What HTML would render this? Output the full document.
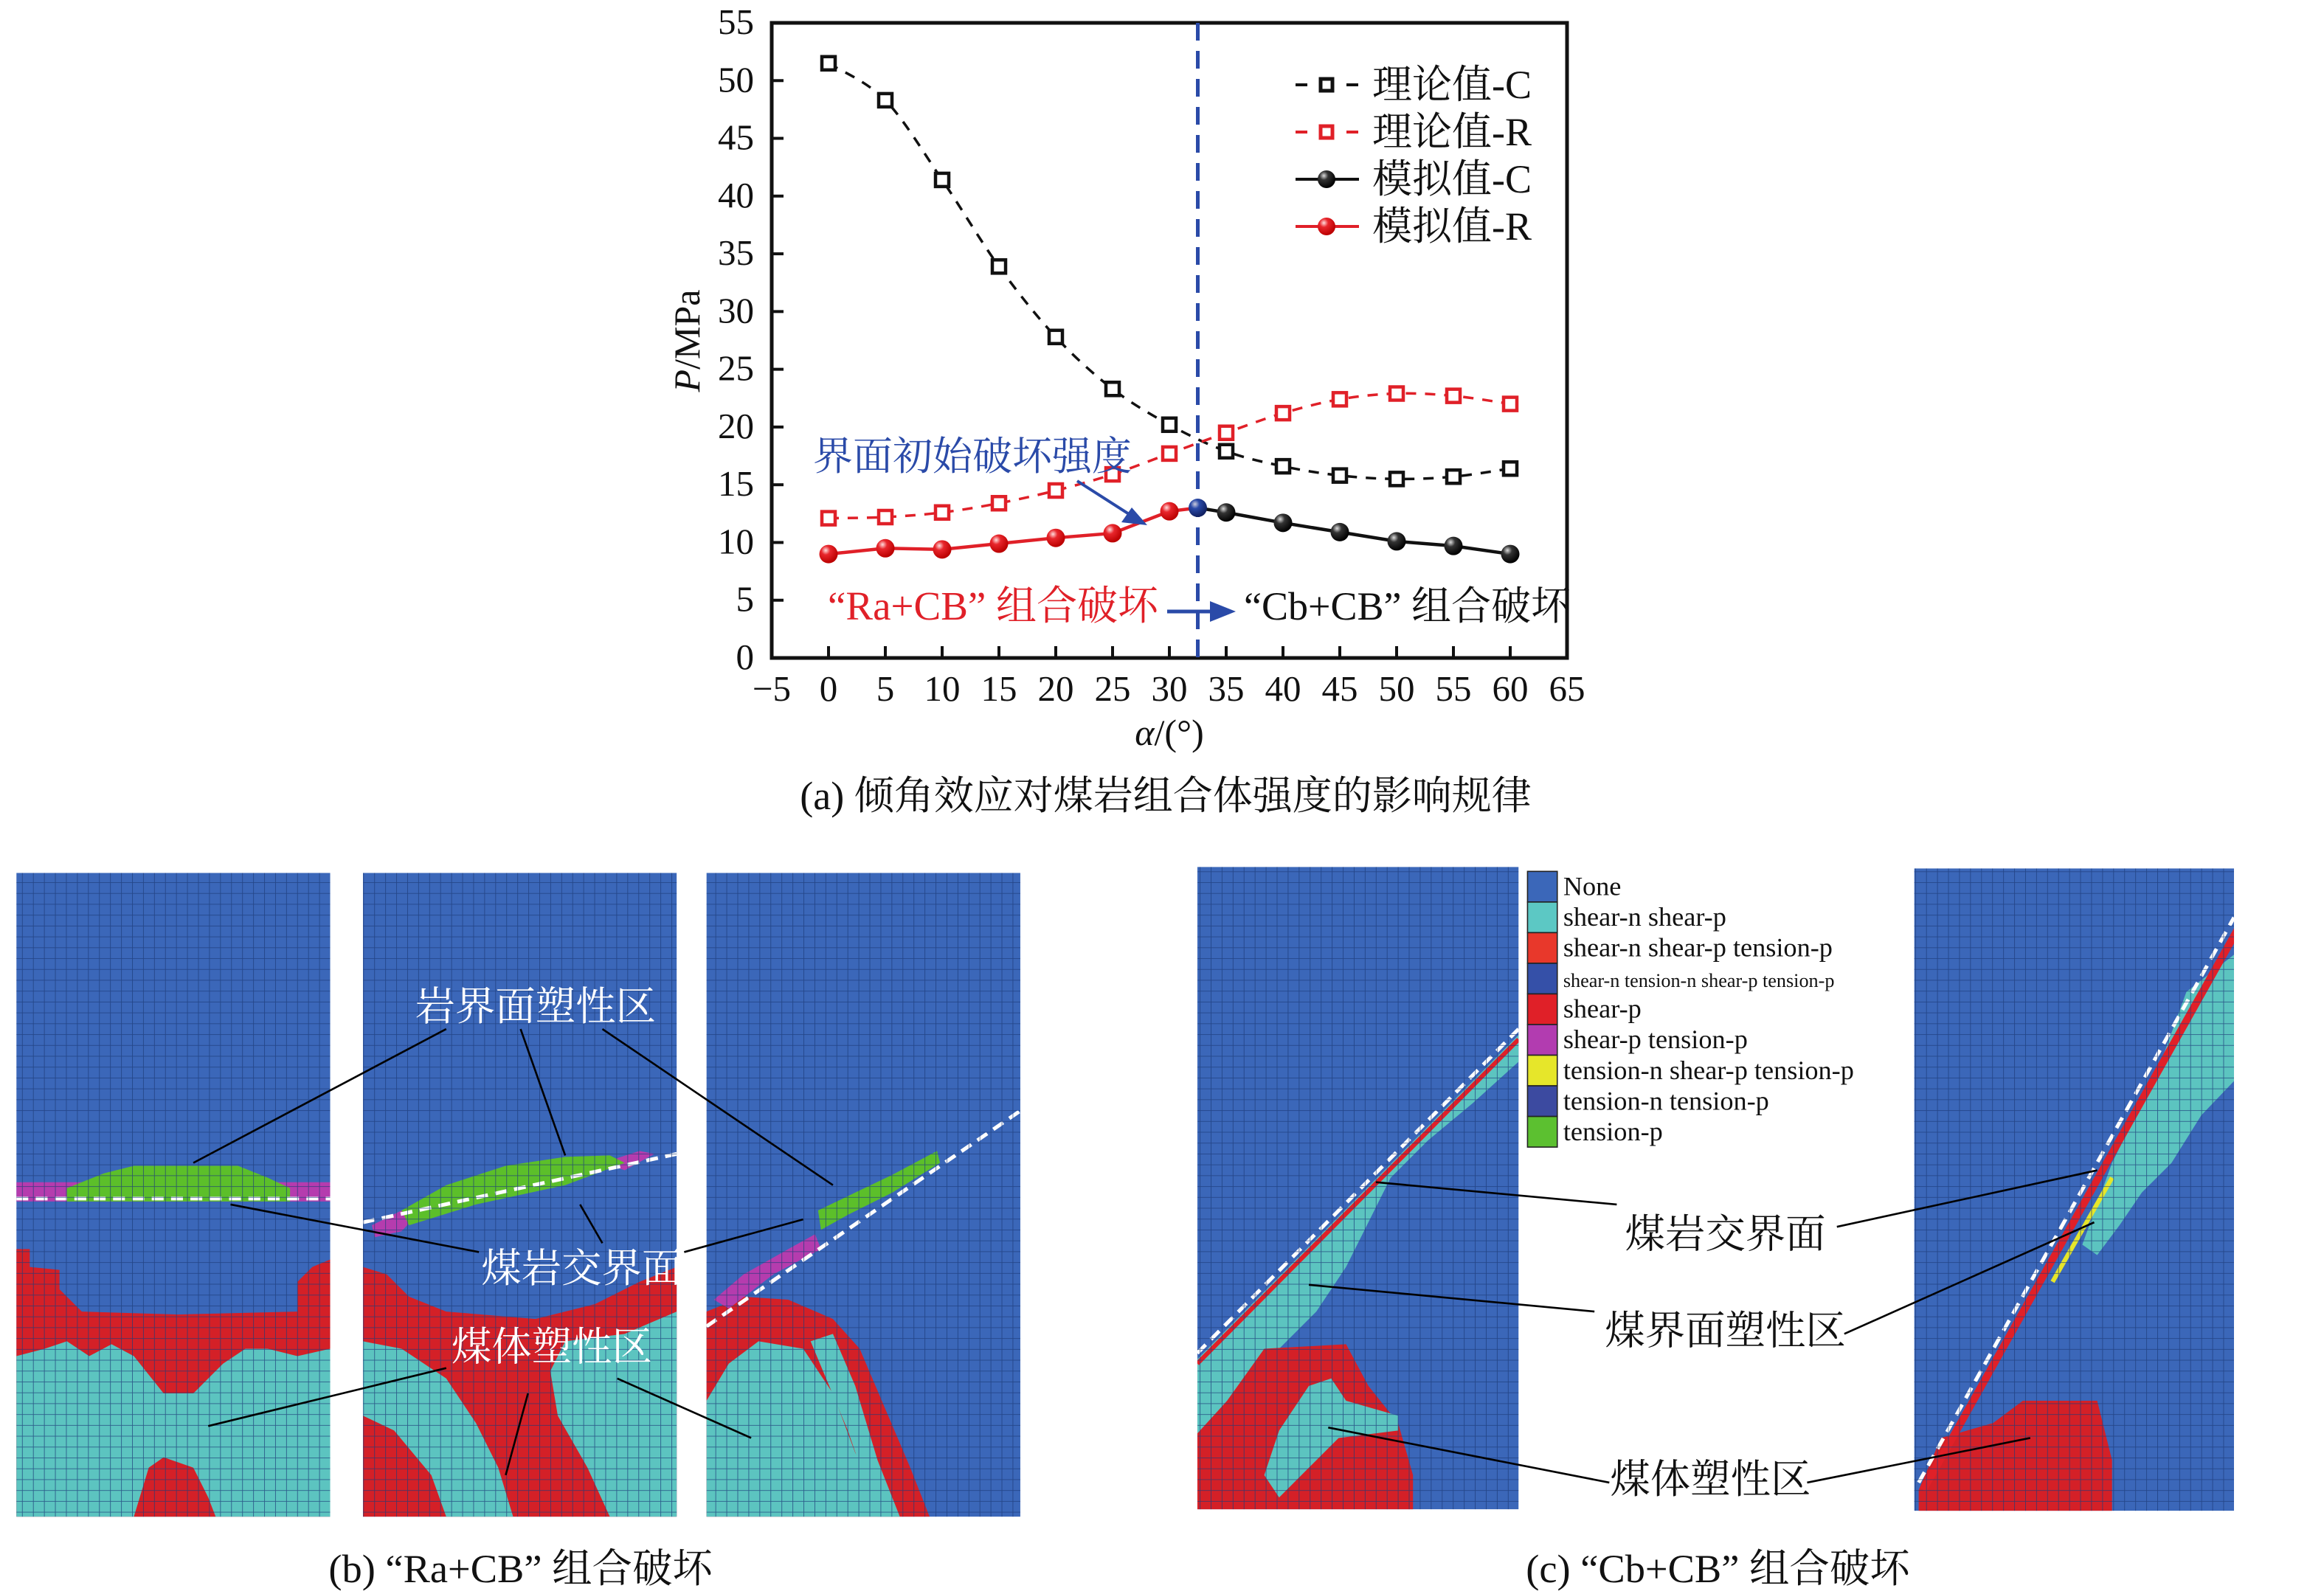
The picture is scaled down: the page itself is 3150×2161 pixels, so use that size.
<!DOCTYPE html>
<html><head><meta charset="utf-8">
<style>
html,body{margin:0;padding:0;background:#fff;}
svg{display:block;}
text{font-family:"Liberation Serif","Noto Serif CJK SC","Noto Sans CJK SC",serif;}
</style></head>
<body>
<svg id="fig" xmlns="http://www.w3.org/2000/svg" width="3150" height="2161" viewBox="0 0 3150 2161">
<defs>
  <radialGradient id="gBlack" cx="0.35" cy="0.3" r="0.7"><stop offset="0" stop-color="#ddd"/><stop offset="0.35" stop-color="#333"/><stop offset="1" stop-color="#000"/></radialGradient>
  <radialGradient id="gRed" cx="0.35" cy="0.3" r="0.7"><stop offset="0" stop-color="#fdd"/><stop offset="0.35" stop-color="#e8262c"/><stop offset="1" stop-color="#b00"/></radialGradient>
  <radialGradient id="gBlue" cx="0.35" cy="0.3" r="0.7"><stop offset="0" stop-color="#ccd"/><stop offset="0.35" stop-color="#2a4aa8"/><stop offset="1" stop-color="#102060"/></radialGradient>
  <pattern id="grid" width="7.4" height="7.3" patternUnits="userSpaceOnUse">
    <path d="M0 0H7.4M0 0V7.3" stroke="#1c3a78" stroke-width="0.9" fill="none" opacity="0.75"/>
  </pattern>
  <clipPath id="cb1"><rect x="11" y="585" width="211" height="433"/></clipPath>
  <clipPath id="cb2"><rect x="244" y="585" width="211" height="433"/></clipPath>
  <clipPath id="cb3"><rect x="475" y="585" width="211" height="433"/></clipPath>
  <clipPath id="cc1"><rect x="805" y="581" width="216" height="432"/></clipPath>
  <clipPath id="cc2"><rect x="1287" y="582" width="215" height="432"/></clipPath>
</defs>
<g id="chart"></g>
<g id="panels" transform="translate(0,4) scale(2.016)">
  <g clip-path="url(#cb1)">
    <rect x="11" y="585" width="211" height="433" fill="#3b67b9"/>
    <polygon fill="#d42027" points="11,838 20,838 20,850 40,852 40,865 55,880 120,882 200,880 200,860 210,850 222,845 222,1018 11,1018"/>
    <polygon fill="#5cc4c0" points="11,910 30,905 45,900 60,910 75,902 90,910 110,935 130,935 150,915 165,905 180,905 200,910 222,905 222,1018 11,1018"/>
    <polygon fill="#d42027" points="90,1018 100,985 110,978 130,985 140,1005 145,1018"/>
    <polygon fill="#b53cae" points="11,793 222,793 222,806 11,806"/>
    <polygon fill="#5cbf2a" points="45,797 70,787 90,782 160,782 180,790 195,797 195,806 45,806"/>
    <line x1="11" y1="804" x2="222" y2="804" stroke="#fff" stroke-width="2.5" stroke-dasharray="8,5"/>
    <rect x="11" y="585" width="211" height="433" fill="url(#grid)"/>
  </g>
  <g clip-path="url(#cb2)">
    <rect x="244" y="585" width="211" height="433" fill="#3b67b9"/>
    <polygon fill="#d42027" points="244,850 260,855 275,870 300,880 360,885 400,875 430,860 455,850 455,1018 244,1018"/>
    <polygon fill="#5cc4c0" points="244,900 270,905 300,925 320,955 335,985 345,1018 300,1018 290,990 265,960 244,950"/>
    <polygon fill="#5cc4c0" points="380,900 420,895 455,880 455,1018 410,1018 395,985 375,950 370,920"/>
    <polygon fill="#b53cae" points="250,822 270,812 285,810 270,826 252,830"/>
    <polygon fill="#b53cae" points="405,780 430,772 440,774 420,785"/>
    <polygon fill="#5cbf2a" points="270,812 300,795 340,782 380,776 410,775 420,780 380,795 320,808 275,822"/>
    <line x1="244" y1="820" x2="455" y2="774" stroke="#fff" stroke-width="2.5" stroke-dasharray="8,5"/>
    <rect x="244" y="585" width="211" height="433" fill="url(#grid)"/>
  </g>
  <g clip-path="url(#cb3)">
    <rect x="475" y="585" width="211" height="433" fill="#3b67b9"/>
    <polygon fill="#d42027" points="475,880 500,870 530,872 560,885 578,905 595,945 612,985 625,1018 475,1018"/>
    <polygon fill="#5cc4c0" points="475,940 490,915 510,900 540,905 560,935 575,975 600,1018 475,1018"/>
    <polygon fill="#5cc4c0" points="545,900 560,895 575,930 590,980 605,1018 590,1018 570,960"/>
    <polygon fill="#b53cae" points="480,872 500,855 530,838 548,828 552,838 520,855 490,878"/>
    <polygon fill="#5cbf2a" points="550,812 575,800 600,788 630,772 632,780 600,800 570,815 552,825"/>
    <line x1="475" y1="890" x2="686" y2="745" stroke="#fff" stroke-width="2.5" stroke-dasharray="8,5"/>
    <rect x="475" y="585" width="211" height="433" fill="url(#grid)"/>
  </g>
  <g clip-path="url(#cc1)">
    <rect x="805" y="581" width="216" height="432" fill="#3b67b9"/>
    <polygon fill="#5cc4c0" points="805,912 1021,694 1021,712 990,740 960,765 935,790 920,820 905,850 885,880 860,905 835,930 820,960 805,980"/>
    <polygon fill="#d42027" points="805,962 825,940 850,905 905,902 920,930 940,955 950,990 950,1013 805,1013"/>
    <polygon fill="#5cc4c0" points="880,930 895,925 905,940 940,950 940,960 900,965 880,985 860,1005 850,990 860,960"/>
    <line x1="805" y1="915" x2="1021" y2="697" stroke="#e02028" stroke-width="3"/>
    <line x1="805" y1="908" x2="1021" y2="690" stroke="#fff" stroke-width="2.5" stroke-dasharray="8,5"/>
    <rect x="805" y="581" width="216" height="432" fill="url(#grid)"/>
  </g>
  <g clip-path="url(#cc2)">
    <rect x="1287" y="582" width="215" height="432" fill="#3b67b9"/>
    <polygon fill="#5cc4c0" points="1470,665 1502,640 1502,725 1480,748 1460,780 1440,800 1425,822 1410,842 1400,835 1420,780 1450,720"/>
    <polygon fill="#d42027" points="1290,1000 1305,965 1340,955 1360,940 1410,940 1420,980 1420,1014 1290,1014"/>
    <line x1="1293" y1="1000" x2="1505" y2="622" stroke="#e02028" stroke-width="5"/>
    <line x1="1380" y1="860" x2="1420" y2="790" stroke="#e6e62a" stroke-width="3"/>
    <line x1="1290" y1="995" x2="1502" y2="615" stroke="#fff" stroke-width="2.5" stroke-dasharray="8,5"/>
    <rect x="1287" y="582" width="215" height="432" fill="url(#grid)"/>
  </g>
  <g id="legend2"></g>
  <g stroke="#000" stroke-width="1.3">
    <line x1="300" y1="690" x2="130" y2="780"/>
    <line x1="350" y1="690" x2="380" y2="775"/>
    <line x1="405" y1="690" x2="560" y2="795"/>
    <line x1="155" y1="808" x2="322" y2="840"/>
    <line x1="390" y1="808" x2="405" y2="834"/>
    <line x1="460" y1="840" x2="540" y2="818"/>
    <line x1="300" y1="918" x2="140" y2="957"/>
    <line x1="355" y1="935" x2="340" y2="990"/>
    <line x1="415" y1="925" x2="505" y2="965"/>
  </g>
  <g fill="#fff" font-size="27" text-anchor="middle">
    <text x="360" y="684">岩界面塑性区</text>
    <text x="391" y="860">煤岩交界面</text>
    <text x="371" y="913">煤体塑性区</text>
  </g>
  <g stroke="#000" stroke-width="1.3">
    <line x1="1087" y1="808" x2="925" y2="793"/>
    <line x1="1235" y1="823" x2="1410" y2="785"/>
    <line x1="1072" y1="880" x2="880" y2="862"/>
    <line x1="1240" y1="895" x2="1408" y2="820"/>
    <line x1="1082" y1="995" x2="893" y2="958"/>
    <line x1="1215" y1="995" x2="1365" y2="965"/>
  </g>
  <g fill="#111" font-size="27" text-anchor="middle">
    <text x="1160" y="837">煤岩交界面</text>
    <text x="1160" y="902">煤界面塑性区</text>
    <text x="1150" y="1002">煤体塑性区</text>
  </g>
  <text x="350" y="1062" font-size="27" text-anchor="middle" fill="#111">(b) “Ra+CB” 组合破坏</text>
  <text x="1155" y="1062" font-size="27" text-anchor="middle" fill="#111">(c) “Cb+CB” 组合破坏</text>
</g>
</svg>
<script>
// ---- chart data ----
const angles = [0,5,10,15,20,25,30,35,40,45,50,55,60];
const theoryC = [51.5,48.3,41.4,33.9,27.8,23.3,20.2,17.9,16.6,15.8,15.5,15.7,16.4];
const theoryR = [12.1,12.2,12.6,13.4,14.5,15.9,17.7,19.5,21.2,22.4,22.9,22.7,22.0];
const simRAngles = [0,5,10,15,20,25,30];
const simR = [9.0,9.5,9.4,9.9,10.4,10.8,12.7];
const simCAngles = [35,40,45,50,55,60];
const simC = [12.6,11.7,10.9,10.1,9.7,9.0];
const transitionAngle = [32.5];
const transitionValue = [13.0];
const xTicks = [-5,0,5,10,15,20,25,30,35,40,45,50,55,60,65];
const yTicks = [0,5,10,15,20,25,30,35,40,45,50,55];
const legendLabels = ["None","shear-n shear-p","shear-n shear-p tension-p","shear-n tension-n shear-p tension-p","shear-p","shear-p tension-p","tension-n shear-p tension-p","tension-n tension-p","tension-p"];
const legendColors = ["#3b67b9","#5cc8c4","#e8382b","#3550a8","#e02028","#b23cb0","#e6e62a","#3c4aa0","#5cc030"];

const NS="http://www.w3.org/2000/svg";
const X0=1046, X1=2124, Y0=892, Y1=31;
const xs=v=>X0+(v+5)*(X1-X0)/70;
const ys=v=>Y0-v*(Y0-Y1)/55;
const chart=document.getElementById('chart');
function mk(tag,attrs,parent){const e=document.createElementNS(NS,tag);for(const k in attrs)e.setAttribute(k,attrs[k]);(parent||chart).appendChild(e);return e;}
function smooth(px,py){let d=`M${px[0]},${py[0]}`;for(let i=0;i<px.length-1;i++){const x0=px[Math.max(i-1,0)],y0=py[Math.max(i-1,0)],x1=px[i],y1=py[i],x2=px[i+1],y2=py[i+1],x3=px[Math.min(i+2,px.length-1)],y3=py[Math.min(i+2,px.length-1)];d+=` C${x1+(x2-x0)/6},${y1+(y2-y0)/6} ${x2-(x3-x1)/6},${y2-(y3-y1)/6} ${x2},${y2}`;}return d;}

let fr=mk('rect',{x:X0,y:Y1,width:X1-X0,height:Y0-Y1,fill:'none',stroke:'#111','stroke-width':5});


xTicks.forEach(t=>{
  const x=xs(t);
  if(t>-5&&t<65){const l=mk('line',{x1:x,y1:Y0,x2:x,y2:Y0-16,stroke:'#111','stroke-width':4});
  
  }
  const tx=mk('text',{x:x,y:950,'font-size':49,'text-anchor':'middle',fill:'#111'});
  tx.textContent=t<0?'−'+(-t):String(t);
  
  
});
yTicks.forEach(t=>{
  const y=ys(t);
  if(t>0&&t<55){const l=mk('line',{x1:X0,y1:y,x2:X0+16,y2:y,stroke:'#111','stroke-width':4});
  
  }
  const tx=mk('text',{x:1022,y:y+15,'font-size':49,'text-anchor':'end',fill:'#111'});
  tx.textContent=String(t);
  
  
});
let yl=mk('text',{x:0,y:0,'font-size':50,'text-anchor':'middle',fill:'#111',transform:'translate(948,462) rotate(-90)'});
yl.innerHTML='<tspan font-style="italic">P</tspan>/MPa';


let xl=mk('text',{x:1585,y:1010,'font-size':50,'text-anchor':'middle',fill:'#111'});
xl.innerHTML='<tspan font-style="italic">α</tspan>/(°)';


let cap=mk('text',{x:1580,y:1097,'font-size':54,'text-anchor':'middle',fill:'#111'});
cap.textContent='(a) 倾角效应对煤岩组合体强度的影响规律';



let vl=mk('line',{x1:xs(transitionAngle[0]),y1:Y1,x2:xs(transitionAngle[0]),y2:Y0,stroke:'#2a4aa8','stroke-width':5,'stroke-dasharray':'24,14'});



function theory(vals,color,name){
  const p=mk('path',{d:smooth(angles.map(xs),vals.map(ys)),fill:'none',stroke:color,'stroke-width':3.5,'stroke-dasharray':'14,12'});
  
  
  angles.forEach((a,i)=>{
    const r=mk('rect',{x:xs(a)-9,y:ys(vals[i])-9,width:18,height:18,fill:'#fff',stroke:color,'stroke-width':4.5});
    
    
  });
}
theory(theoryC,'#111','theory-c');
theory(theoryR,'#e02028','theory-r');

function sim(ang,vals,color,grad,name){
  const before=ang[0]<transitionAngle[0];
  const order=before?[...ang,...transitionAngle]:[...transitionAngle,...ang];
  const ov=before?[...vals,...transitionValue]:[...transitionValue,...vals];
  const p=mk('polyline',{points:order.map((a,i)=>xs(a)+','+ys(ov[i])).join(' '),fill:'none',stroke:color,'stroke-width':4.5});
  
  
  ang.forEach((a,i)=>{
    const c=mk('circle',{cx:xs(a),cy:ys(vals[i]),r:12.5,fill:grad});
    
    
  });
}
sim(simRAngles,simR,'#e02028','url(#gRed)','sim-r');
sim(simCAngles,simC,'#111','url(#gBlack)','sim-c');
let tp=mk('circle',{cx:xs(transitionAngle[0]),cy:ys(transitionValue[0]),r:12.5,fill:'url(#gBlue)'});



const lg=mk('g',{});


const lItems=[['理论值-C','#111',true],['理论值-R','#e02028',true],['模拟值-C','#111',false],['模拟值-R','#e02028',false]];
lItems.forEach((it,i)=>{
  const y=115+i*64;
  if(it[2]){mk('line',{x1:1756,y1:y,x2:1772,y2:y,stroke:it[1],'stroke-width':4},lg);mk('line',{x1:1825,y1:y,x2:1841,y2:y,stroke:it[1],'stroke-width':4},lg);
    mk('rect',{x:1790,y:y-8,width:16,height:16,fill:'#fff',stroke:it[1],'stroke-width':5},lg);}
  else{mk('line',{x1:1756,y1:y,x2:1842,y2:y,stroke:it[1],'stroke-width':4},lg);
    mk('circle',{cx:1798,cy:y,r:12,fill:it[1]==='#111'?'url(#gBlack)':'url(#gRed)'},lg);}
  const t=mk('text',{x:1860,y:y+18,'font-size':54,fill:'#111'},lg);
  t.textContent=it[0];
  
  
});

let a1=mk('text',{x:1102,y:637,'font-size':54,fill:'#2a4aa8'});
a1.textContent='界面初始破坏强度';


let ar1=mk('path',{d:'M1460,652 L1535,700',stroke:'#2a4aa8','stroke-width':4,fill:'none'});


mk('polygon',{points:'1555,712 1520,708 1534,688',fill:'#2a4aa8'});
let a2=mk('text',{x:1122,y:840,'font-size':55,fill:'#e02028'});
a2.textContent='“Ra+CB” 组合破坏';


let ar2=mk('line',{x1:1582,y1:829,x2:1645,y2:829,stroke:'#2a4aa8','stroke-width':5});


mk('polygon',{points:'1675,829 1640,815 1640,843',fill:'#2a4aa8'});
let a3=mk('text',{x:1686,y:840,'font-size':54,fill:'#111'});
a3.textContent='“Cb+CB” 组合破坏';



const lg2=document.getElementById('legend2');
legendLabels.forEach((lab,i)=>{
  const y=584+i*20.6;
  const r=document.createElementNS(NS,'rect');
  r.setAttribute('x',1027);r.setAttribute('y',y);r.setAttribute('width',20);r.setAttribute('height',20.6);
  r.setAttribute('fill',legendColors[i]);r.setAttribute('stroke','#222');r.setAttribute('stroke-width',0.8);
  
  
  lg2.appendChild(r);
  const t=document.createElementNS(NS,'text');
  t.setAttribute('x',1051);t.setAttribute('y',y+16);
  t.setAttribute('font-size',i===3?13:18);t.setAttribute('fill','#111');
  t.textContent=lab;
  
  
  lg2.appendChild(t);
});
</script>
</body></html>
